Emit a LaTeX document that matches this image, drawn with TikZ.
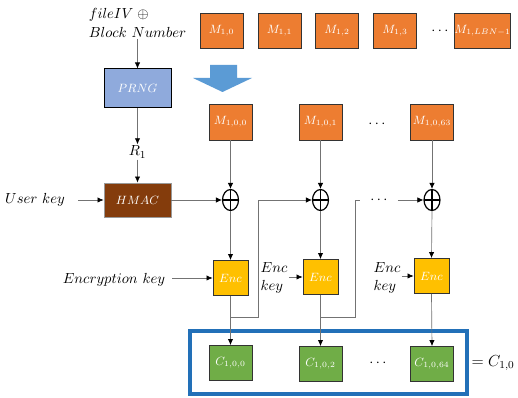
\documentclass[tikz,border=0pt]{standalone}
\usetikzlibrary{arrows.meta,shapes.geometric}
\definecolor{orng}{HTML}{ED7D31}
\definecolor{grn}{HTML}{70AD47}
\definecolor{ylw}{HTML}{FFC000}
\definecolor{brwn}{HTML}{843C0C}
\definecolor{prngblue}{HTML}{8FAADC}
\definecolor{arrblue}{HTML}{5B9BD5}
\definecolor{boxblue}{HTML}{2270B8}
\tikzset{
  lbl/.style={font=\fontsize{10.95}{13}\selectfont, inner sep=1pt},
  blk/.style={draw=black!80, line width=0.6pt, text=white, inner sep=0pt,
              font=\fontsize{9}{10}\selectfont},
  mbox/.style={blk, fill=orng, minimum width=32.25pt, minimum height=26.25pt},
  cbox/.style={blk, fill=grn, minimum width=32.25pt, minimum height=26.25pt},
  encbox/.style={blk, fill=ylw, minimum width=26.25pt, minimum height=26.25pt},
  xor/.style={ellipse, draw=black, line width=0.9pt, minimum width=12pt,
              minimum height=15.75pt, inner sep=0pt,
              path picture={\draw[line width=1.3pt]
                (path picture bounding box.north) -- (path picture bounding box.south)
                (path picture bounding box.west) -- (path picture bounding box.east);}},
  conn/.style={draw=black!55, line width=0.5pt},
  arr/.style={conn, -{Latex[length=4.5pt,width=4pt,color=black]}},
}
\begin{document}
\begin{tikzpicture}[x=0.75pt,y=-0.75pt]
\fill[white] (0,0) rectangle (518,398);
\useasboundingbox (0,0) rectangle (518,398);

% top row
\node[mbox] (m10) at (221.5,30.5) {$M_{1,0}$};
\node[mbox] (m11) at (279.5,30.5) {$M_{1,1}$};
\node[mbox] (m12) at (337,30.5) {$M_{1,2}$};
\node[mbox] (m13) at (395,30.5) {$M_{1,3}$};
\node[lbl] (dtop) at (440,31) {$\cdots$};
\node[mbox, minimum width=41.25pt] (m1l) at (482.5,30.5) {$M_{1,LBN-1}$};

% big blue arrow
\fill[arrblue] (210,65) -- (237,65) -- (237,78) -- (252,78) -- (222.5,92)
  -- (193,78) -- (210,78) -- cycle;

% left chain
\node[lbl, align=left] (src) at (137.5,23) {$fileIV\;\oplus$\\[1pt]$Block\ Number$};
\node[blk, fill=prngblue, draw=black, line width=0.75pt, minimum width=50.25pt,
      minimum height=29.25pt] (prng) at (137.5,88.5) {$PRNG$};
\node[lbl] (r1) at (137.5,152) {$R_1$};
\node[blk, fill=brwn, draw=black!40, minimum width=50.25pt, minimum height=25.5pt]
      (hmac) at (137.5,200) {$HMAC$};
\node[lbl] (uk) at (35,200) {$User\ key$};

\draw[arr] (src.south) -- (prng.north);
\draw[arr] (prng.south) -- (r1.north);
\draw[arr] (r1.south) -- (hmac.north);
\draw[arr] ([xshift=9pt]uk.east |- hmac.west) -- (hmac.west);

% message blocks
\node[mbox, minimum height=27pt] (m100) at (230.5,122) {$M_{1,0,0}$};
\node[mbox, minimum height=27pt] (m101) at (320.5,122) {$M_{1,0,1}$};
\node[lbl] (dmid) at (377,124) {$\cdots$};
\node[mbox, minimum height=27pt] (m1063) at (432,122) {$M_{1,0,63}$};

% xors
\node[xor] (x1) at (230.5,200) {};
\node[xor] (x2) at (320.5,200) {};
\node[xor] (x3) at (432,200) {};

\draw[arr] (m100.south) -- (x1.north);
\draw[arr] (m101.south) -- (x2.north);
\draw[arr] (m1063.south) -- (x3.north);
\draw[arr] (hmac.east) -- (x1.west);

% enc
\node[encbox] (e1) at (230.5,278) {$Enc$};
\node[encbox] (e2) at (320.5,277) {$Enc$};
\node[encbox] (e3) at (431.5,276) {$Enc$};

\draw[arr] (x1.south) -- (e1.north);
\draw[arr] (x2.south) -- (e2.north);
\draw[arr] (x3.south) -- (e3.north);

\node[lbl] (ek) at (114,280) {$Encryption\ key$};
\node[lbl, align=left] (ek2) at (274,278) {$Enc$\\$key$};
\node[lbl, align=left] (ek3) at (387,278) {$Enc$\\$key$};
\draw[arr] ([xshift=4pt]ek.east |- e1.west) -- (e1.west);
\draw[arr] (ek2.east |- e2.west) -- (e2.west);
\draw[arr] (ek3.east |- e3.west) -- (e3.west);

% feedback
\coordinate (f1) at (258,317);
\coordinate (f2) at (355,317);
\node[lbl, minimum width=28pt, inner sep=0pt] (dfb) at (379,200) {$\cdots$};
\draw[arr] (e1.south) |- (f1) |- (x2.west);
\draw[conn] (e2.south) |- (f2) |- (dfb.west);
\draw[arr] (dfb.east) -- (x3.west);

% ciphertext
\draw[boxblue, line width=2.3pt] (190,331) rectangle (467,394);
\node[cbox] (c100) at (230.5,363) {$C_{1,0,0}$};
\node[cbox] (c102) at (320.5,364) {$C_{1,0,2}$};
\node[lbl] (dbot) at (378,363) {$\cdots$};
\node[cbox] (c1064) at (432,364) {$C_{1,0,64}$};
\node[font=\fontsize{12}{14}\selectfont, inner sep=0pt] (eq) at (493,363) {$=C_{1,0}$};

\draw[arr] (e1.south) -- (c100.north);
\draw[arr] (e2.south) -- (c102.north);
\draw[arr] (e3.south) -- (c1064.north);
\end{tikzpicture}
\end{document}
